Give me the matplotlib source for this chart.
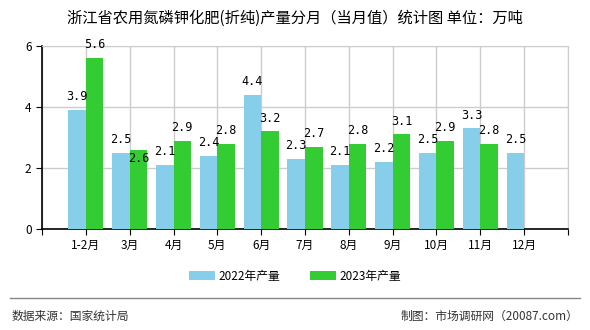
import numpy as np
import matplotlib.pyplot as plt

plt.rcParams['font.family'] = ['Noto Sans CJK SC', 'DejaVu Sans']

# 数据
months = ['1-2月', '3月', '4月', '5月', '6月', '7月', '8月', '9月', '10月', '11月', '12月']
v2022 = [3.9, 2.5, 2.1, 2.4, 4.4, 2.3, 2.1, 2.2, 2.5, 3.3, 2.5]
v2023 = [5.6, 2.6, 2.9, 2.8, 3.2, 2.7, 2.8, 3.1, 2.9, 2.8]

fig = plt.figure(figsize=(5.9, 3.3), dpi=100)
ax = fig.add_axes([0.0712, 0.306, 0.8915, 0.5546])

x = np.arange(len(months))
w = 0.4
b1 = ax.bar(x[:len(v2022)] - w / 2, v2022, w, color='#87CEEB', label='2022年产量', zorder=3)
b2 = ax.bar(x[:len(v2023)] + w / 2, v2023, w, color='#33CC33', label='2023年产量', zorder=3)

for r, v in zip(b1, v2022):
    ax.text(r.get_x() + r.get_width() / 2, v + 0.22, f'{v:.1f}', ha='center', va='bottom',
            fontsize=8.5, family='DejaVu Sans Mono', zorder=4)
for i, (r, v) in enumerate(zip(b2, v2023)):
    # 与2022标签太近时往下挪
    y = v + 0.22 if abs(v - v2022[i]) > 0.2 else v - 0.5
    ax.text(r.get_x() + r.get_width() / 2, y, f'{v:.1f}', ha='center', va='bottom',
            fontsize=8.5, family='DejaVu Sans Mono', zorder=4)

ax.set_xlim(-1, len(months))
ax.set_ylim(0, 6)
ax.set_yticks([0, 2, 4, 6])
ax.set_xticks(np.arange(-1, len(months) + 1))
ax.set_xticklabels([''] + months + [''])
ax.tick_params(axis='both', labelsize=8.5, length=4, color='black')
ax.grid(True, color='#cccccc', linewidth=1, zorder=0)
for s in ('top', 'right'):
    ax.spines[s].set_color('#cccccc')
for s in ('left', 'bottom'):
    ax.spines[s].set_color('black')
    ax.spines[s].set_linewidth(1.2)

fig.text(0.5, 0.945, '浙江省农用氮磷钾化肥(折纯)产量分月（当月值）统计图 单位：万吨',
         ha='center', va='center', fontsize=11, weight='medium')
fig.legend(handles=[b1, b2], loc='center', bbox_to_anchor=(0.5, 0.163), ncol=2, frameon=False,
           fontsize=8.5, handlelength=2.2, handleheight=0.8, columnspacing=2.5, handletextpad=0.3)
fig.add_artist(plt.Line2D([0.017, 0.983], [0.097, 0.097], color='#888888', linewidth=1))
fig.text(0.02, 0.042, '数据来源：国家统计局', ha='left', va='center', fontsize=8.5, color='#333333')
fig.text(0.98, 0.042, '制图：市场调研网（20087.com）', ha='right', va='center', fontsize=8.5, color='#333333')

fig.savefig('out.png', dpi=100)
